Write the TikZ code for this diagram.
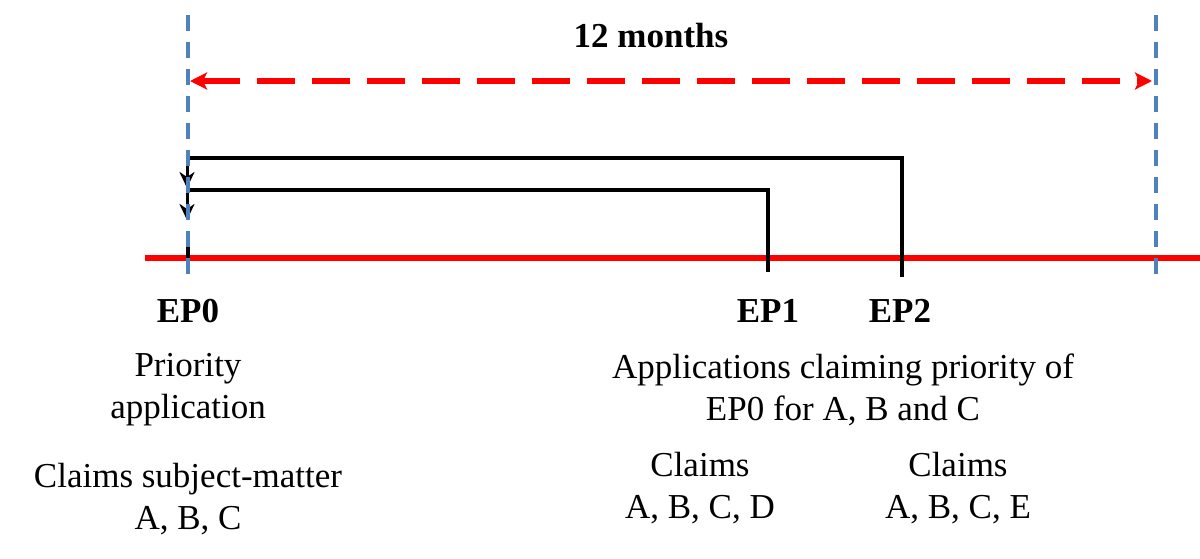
\documentclass[tikz,border=0pt]{standalone}
\usepackage{fontspec}
\setmainfont{Liberation Serif}
\usetikzlibrary{arrows.meta}

\definecolor{guideblue}{HTML}{4F81BD}

\begin{document}
\begin{tikzpicture}[x=0.5pt, y=-0.5pt, font=\fontsize{17.5}{21}\selectfont,
    guide/.style={guideblue, line width=1.7pt, dash pattern=on 8pt off 5.5pt},
    timeline/.style={red, line width=2.6pt},
    period/.style={red, line width=2.6pt, dash pattern=on 19pt off 8.5pt,
        {Stealth[length=8.5pt, width=8.5pt, inset=2pt]}-{Stealth[length=8.5pt, width=8.5pt, inset=2pt]}},
    bracket/.style={black, line width=2.4pt},
    prio/.style={black, line width=1.5pt, -{Stealth[length=8pt, width=7.5pt, inset=2.5pt]}},
    lbl/.style={font=\fontsize{17.5}{21}\selectfont\bfseries, inner sep=0pt},
    txt/.style={align=center, inner sep=0pt}]

    \useasboundingbox (0,0) rectangle (1200,558);

    % --- Punti sulla linea del tempo ---
    \coordinate (ep0) at (188,258);
    \coordinate (ep1) at (768,258);
    \coordinate (ep2) at (902,258);
    \coordinate (lim) at (1156,258);

    % --- Linea del tempo ---
    \draw[timeline] (145,258) -- (1200,258);

    % --- Periodo di 12 mesi ---
    \draw[period] (190,81) -- (1152,81);
    \node[lbl] (mesi) at (651,36) {12 months};

    % --- Collegamenti di priorita' EP1, EP2 -> EP0 ---
    % \x = posizione, \y = quota orizzontale, \yb = piede
    \foreach \x / \y / \yb in {902/158/277, 768/190/272} {
        \draw[bracket, line join=miter] (186,\y) -- (\x,\y) -- (\x,\yb);
        \draw[prio] (187,\y-1) -- (187,\y+30);
    }

    % EP0
    \draw[bracket] (188,240) -- (188,270);

    % --- Linee guida verticali ---
    \draw[guide] (188,15) -- (188,278);
    \draw[guide] (1156,15) -- (1156,282);

    % --- Etichette ---
    \node[lbl] (ep0lbl) at (188,311) {EP0};
    \node[lbl] (ep1lbl) at (768,311) {EP1};
    \node[lbl] (ep2lbl) at (900,311) {EP2};

    \node[txt] (prio) at (188,390) {Priority\\application};
    \node[txt] (cl0) at (188,499) {Claims subject-matter\\A, B, C};
    \node[txt] (appl) at (843,390) {Applications claiming priority of\\EP0 for A, B and C};
    \node[txt] (cl1) at (700,488) {Claims\\A, B, C, D};
    \node[txt] (cl2) at (958,488) {Claims\\A, B, C, E};

\end{tikzpicture}
\end{document}
